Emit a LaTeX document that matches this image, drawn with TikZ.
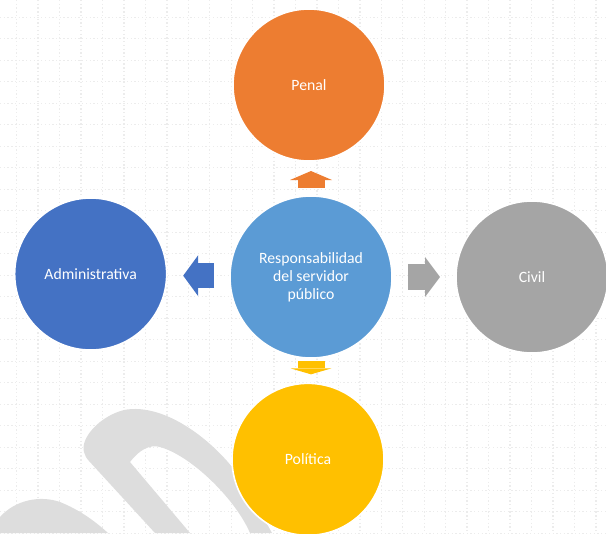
\documentclass[tikz,border=0pt]{standalone}
\usepackage{fontspec}
\setmainfont{Carlito}
\usepackage{tikz}
\usetikzlibrary{positioning}
\usetikzlibrary{arrows.meta}
\definecolor{cPenal}{RGB}{237,125,49}
\definecolor{cCentro}{RGB}{91,155,213}
\definecolor{cAdmin}{RGB}{68,114,196}
\definecolor{cCivil}{RGB}{165,165,165}
\definecolor{cPolitica}{RGB}{255,192,0}
\definecolor{cMarca}{RGB}{221,221,221}
\definecolor{cRejilla}{RGB}{236,236,236}
\tikzset{
  Circulo/.style={circle, fill=#1, draw=white, line width=1.2pt, minimum size=114pt,
    inner sep=0pt, outer sep=0pt, text=white, align=center,
    font=\fontsize{11.8}{13.4}\selectfont}, % für die Kreise
  Flecha/.style n args={4}{color=#1, line width=#2,
    -{Triangle[width=#3, length=#4, line width=0pt]}}, % Blockpfeile
  Rejilla/.style={cRejilla, line width=1pt, dash pattern=on 1pt off 1.8pt} % Punktraster
}

\begin{document}
\begin{tikzpicture}[x=0.75pt, y=-0.75pt]
\useasboundingbox (0,0) rectangle (606,533);
\clip (0,0) rectangle (606,533);

%Raster
\foreach \k in {0,...,27}
  \draw[Rejilla] (16.7+21.45*\k,0) -- (16.7+21.45*\k,533);
\foreach \k in {0,...,24}
  \draw[Rejilla] (0,17.3+21.5*\k) -- (606,17.3+21.5*\k);

%Wasserzeichen
\fill[cMarca] (84,452) .. controls (80,438) and (100,416) .. (124,410)
  .. controls (165,402) and (218,442) .. (246,486) -- (272,533) -- (250,533)
  .. controls (236,500) and (192,456) .. (160,447)
  .. controls (150,444) and (139,450) .. (130,462) -- (190,533) -- (155,533)
  -- (89,461) .. controls (86,458) and (85,455) .. (84,452) -- cycle;
\fill[cMarca] (0,517) .. controls (15,500) and (40,495) .. (60,502)
  .. controls (80,510) and (96,522) .. (108,533) -- (0,533) -- cycle;

%Kreise
\node[Circulo=cCentro, minimum size=121.5pt] (ctr) at (311,277)
  {Responsabilidad\\del servidor\\público};
\node[Circulo=cPenal, above=26.25pt of ctr, xshift=-1.5pt] (pen) {Penal};
\node[Circulo=cAdmin, left=47.5pt of ctr, yshift=2.25pt] (adm) {Administrativa};
\node[Circulo=cCivil, right=48pt of ctr] (civ) {Civil};
\node[Circulo=cPolitica, below=19pt of ctr, xshift=-2.25pt] (pol) {Política};

%Pfeile
\draw[Flecha={cPenal}{20.25pt}{31.5pt}{6.75pt}, shorten <=6pt, shorten >=7.5pt]
  (ctr.north) -- (ctr.north |- pen.south);
\draw[Flecha={cAdmin}{18.75pt}{30.75pt}{11.25pt}, shorten <=12pt, shorten >=12.4pt]
  ([yshift=1pt]ctr.west) -- ([yshift=1pt]ctr.west -| adm.east);
\draw[Flecha={cCivil}{19.5pt}{30pt}{11.25pt}, shorten <=12pt, shorten >=12pt]
  (ctr.east) -- (ctr.east -| civ.west);
\draw[Flecha={cPolitica}{20.25pt}{30.75pt}{4.5pt}, shorten <=2.25pt, shorten >=6.75pt]
  (ctr.south) -- (ctr.south |- pol.north);

\end{tikzpicture}
\end{document}
